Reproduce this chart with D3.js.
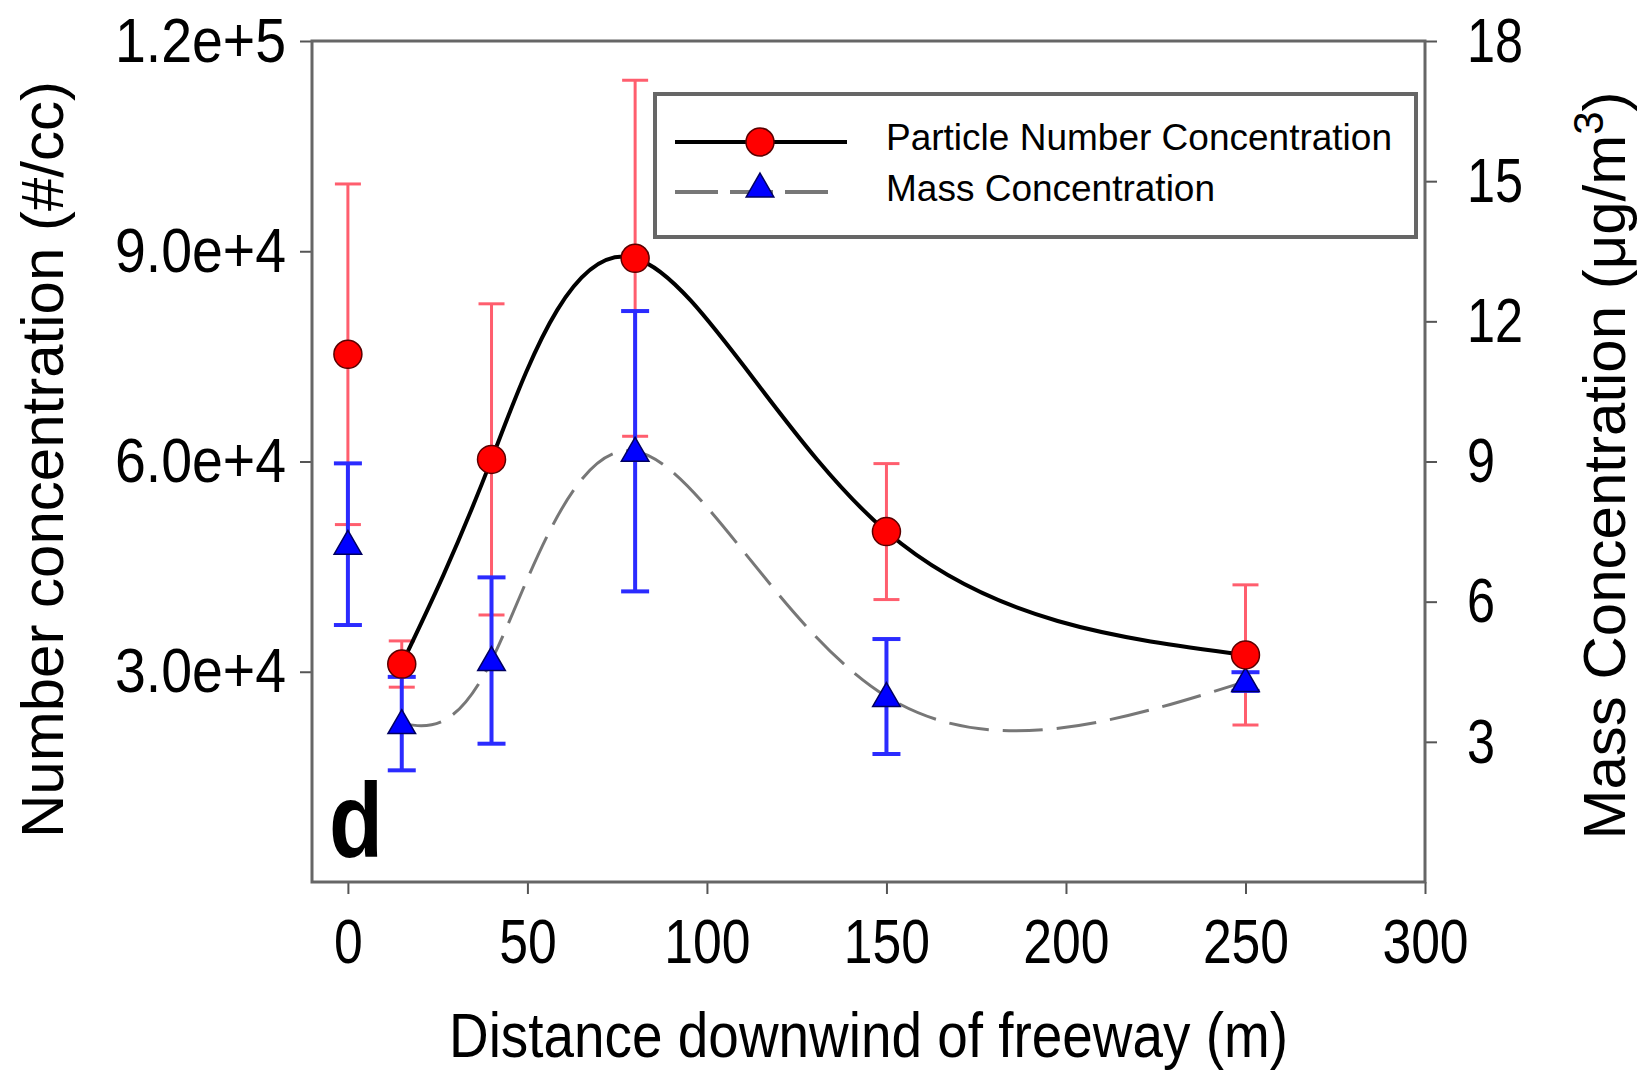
<!DOCTYPE html>
<html>
<head>
<meta charset="utf-8">
<script src="https://cdn.jsdelivr.net/npm/d3@7"></script>
<style>
  body { margin: 0; background: #fff; }
  text { font-family: "Liberation Sans", Arial, sans-serif; fill: #000; }
</style>
</head>
<body>
<div id="chart"></div>
<script>
// Data
const distance   = [0, 15, 40, 80, 150, 250];
const numberConc = [75300, 31100, 60300, 89000, 50000, 32400];
const numberErr  = [24300, 3300, 22200, 25400, 9700, 10000];
const massConc   = [7.23, 3.39, 4.74, 9.22, 3.97, 4.29];
const massErr    = [1.73, 1.0, 1.78, 3.0, 1.23, 0.2];

const xTicks = [0, 50, 100, 150, 200, 250, 300];
const leftTicks = [30000, 60000, 90000, 120000];
const rightTicks = [3, 6, 9, 12, 15, 18];
const seriesNames = ['Particle Number Concentration', 'Mass Concentration'];

// Dimensions
const width = 1638;
const height = 1070;
const margin = { top: 41, right: 213, bottom: 188, left: 312 };
const plotW = width - margin.left - margin.right;
const plotH = height - margin.top - margin.bottom;

const x = d3.scaleLinear().domain([-10, 300]).range([margin.left, margin.left + plotW]);
const yN = d3.scaleLinear().domain([0, 120000]).range([margin.top + plotH, margin.top]);
const yM = d3.scaleLinear().domain([0, 18]).range([margin.top + plotH, margin.top]);

const svg = d3.select("#chart").append("svg")
    .attr("width", width)
    .attr("height", height);

// squeeze text horizontally, the figure uses a narrow face
function squeeze(sel, f) {
    sel.each(function() {
        const w = this.getComputedTextLength();
        d3.select(this).attr("textLength", w * f).attr("lengthAdjust", "spacingAndGlyphs");
    });
}

// Axes
const xAxis = svg.append("g")
    .attr("transform", `translate(0,${margin.top + plotH})`)
    .call(d3.axisBottom(x).tickValues(xTicks).tickSize(12).tickPadding(24).tickFormat(d3.format("d")));
const lAxis = svg.append("g")
    .attr("transform", `translate(${margin.left},0)`)
    .call(d3.axisLeft(yN).tickValues(leftTicks).tickSize(12).tickPadding(14).tickFormat(d3.format(".1e")));
const rAxis = svg.append("g")
    .attr("transform", `translate(${margin.left + plotW},0)`)
    .call(d3.axisRight(yM).tickValues(rightTicks).tickSize(12).tickPadding(30).tickFormat(d3.format("d")));

[xAxis, lAxis, rAxis].forEach(g => {
    g.select(".domain").remove();
    g.selectAll(".tick line").attr("stroke", "#555").attr("stroke-width", 2);
    g.selectAll(".tick text").attr("font-size", 63).attr("font-family", "Liberation Sans, Arial, sans-serif").attr("fill", "#000");
});
xAxis.selectAll(".tick text").attr("dy", "0.71em");
squeeze(xAxis.selectAll(".tick text"), 0.82);
squeeze(lAxis.selectAll(".tick text"), 0.88);
squeeze(rAxis.selectAll(".tick text"), 0.8);

// Frame
svg.append("rect")
    .attr("x", margin.left)
    .attr("y", margin.top)
    .attr("width", plotW)
    .attr("height", plotH)
    .attr("fill", "none")
    .attr("stroke", "#666")
    .attr("stroke-width", 3);

// Axis titles
svg.append("text")
    .attr("x", margin.left + plotW / 2)
    .attr("y", 1057)
    .attr("text-anchor", "middle")
    .attr("font-size", 63)
    .attr("textLength", 839)
    .attr("lengthAdjust", "spacingAndGlyphs")
    .text("Distance downwind of freeway (m)");

svg.append("text")
    .attr("transform", `translate(63,${margin.top + plotH / 2 - 2}) rotate(-90)`)
    .attr("text-anchor", "middle")
    .attr("font-size", 60)
    .text("Number concentration (#/cc)");

const rLabel = svg.append("text")
    .attr("transform", `translate(1625,${margin.top + plotH / 2 + 4}) rotate(-90)`)
    .attr("text-anchor", "middle")
    .attr("font-size", 60);
rLabel.append("tspan").text("Mass Concentration (\u03BCg/m");
rLabel.append("tspan").attr("font-size", 42).attr("dy", -22).text("3");
rLabel.append("tspan").attr("dy", 22).text(")");

// Panel letter
svg.append("text")
    .attr("x", 329)
    .attr("y", 857)
    .attr("font-size", 105)
    .attr("font-weight", "bold")
    .attr("textLength", 54)
    .attr("lengthAdjust", "spacingAndGlyphs")
    .text("d");

const pts = distance.map((d, i) => ({
    x: d, n: numberConc[i], ne: numberErr[i], m: massConc[i], me: massErr[i]
}));
const curvePts = pts.filter(p => p.x > 0); // fitted curves start at 15 m

// Error bars
function errorBars(key, errKey, scale, color, sw, cap) {
    const g = svg.append("g").attr("stroke", color).attr("stroke-width", sw);
    pts.forEach(p => {
        const cx = x(p.x), top = scale(p[key] + p[errKey]), bot = scale(p[key] - p[errKey]);
        g.append("line").attr("x1", cx).attr("x2", cx).attr("y1", top).attr("y2", bot);
        g.append("line").attr("x1", cx - cap).attr("x2", cx + cap).attr("y1", top).attr("y2", top);
        g.append("line").attr("x1", cx - cap).attr("x2", cx + cap).attr("y1", bot).attr("y2", bot);
    });
}
errorBars("n", "ne", yN, "#ff5e6e", 3, 13);
errorBars("m", "me", yM, "#2b2bff", 4, 14);

// Curves
svg.append("path")
    .datum(curvePts)
    .attr("fill", "none")
    .attr("stroke", "#777")
    .attr("stroke-width", 3)
    .attr("stroke-dasharray", "40,14")
    .attr("d", d3.line().x(d => x(d.x)).y(d => yM(d.m)).curve(d3.curveNatural));

svg.append("path")
    .datum(curvePts)
    .attr("fill", "none")
    .attr("stroke", "#000")
    .attr("stroke-width", 4)
    .attr("d", d3.line().x(d => x(d.x)).y(d => yN(d.n)).curve(d3.curveNatural));

// Markers
const tri = d3.symbol().type(d3.symbolTriangle).size(330);
svg.append("g").selectAll("path")
    .data(pts)
    .join("path")
    .attr("transform", d => `translate(${x(d.x)},${yM(d.m) + 2})`)
    .attr("d", tri)
    .attr("fill", "#0000ff")
    .attr("stroke", "#000060")
    .attr("stroke-width", 1.5);

svg.append("g").selectAll("circle")
    .data(pts)
    .join("circle")
    .attr("cx", d => x(d.x))
    .attr("cy", d => yN(d.n))
    .attr("r", 14)
    .attr("fill", "#ff0000")
    .attr("stroke", "#5a0000")
    .attr("stroke-width", 1.5);

// Legend
const legend = svg.append("g");
legend.append("rect")
    .attr("x", 655)
    .attr("y", 94)
    .attr("width", 761)
    .attr("height", 143)
    .attr("fill", "#fff")
    .attr("stroke", "#666")
    .attr("stroke-width", 4);

legend.append("line")
    .attr("x1", 675).attr("x2", 847).attr("y1", 142).attr("y2", 142)
    .attr("stroke", "#000").attr("stroke-width", 4);
legend.append("circle")
    .attr("cx", 760).attr("cy", 142).attr("r", 14)
    .attr("fill", "#ff0000").attr("stroke", "#5a0000").attr("stroke-width", 1.5);
legend.append("line")
    .attr("x1", 675).attr("x2", 832).attr("y1", 192).attr("y2", 192)
    .attr("stroke", "#777").attr("stroke-width", 4).attr("stroke-dasharray", "43,12");
legend.append("path")
    .attr("transform", "translate(760,189)")
    .attr("d", tri)
    .attr("fill", "#0000ff").attr("stroke", "#000060").attr("stroke-width", 1.5);

legend.selectAll("text.lg")
    .data(seriesNames)
    .join("text")
    .attr("class", "lg")
    .attr("x", 886)
    .attr("y", (d, i) => 150 + i * 51)
    .attr("font-size", 37)
    .attr("textLength", (d, i) => i === 0 ? 506 : 329)
    .attr("lengthAdjust", "spacingAndGlyphs")
    .text(d => d);
</script>
</body>
</html>
